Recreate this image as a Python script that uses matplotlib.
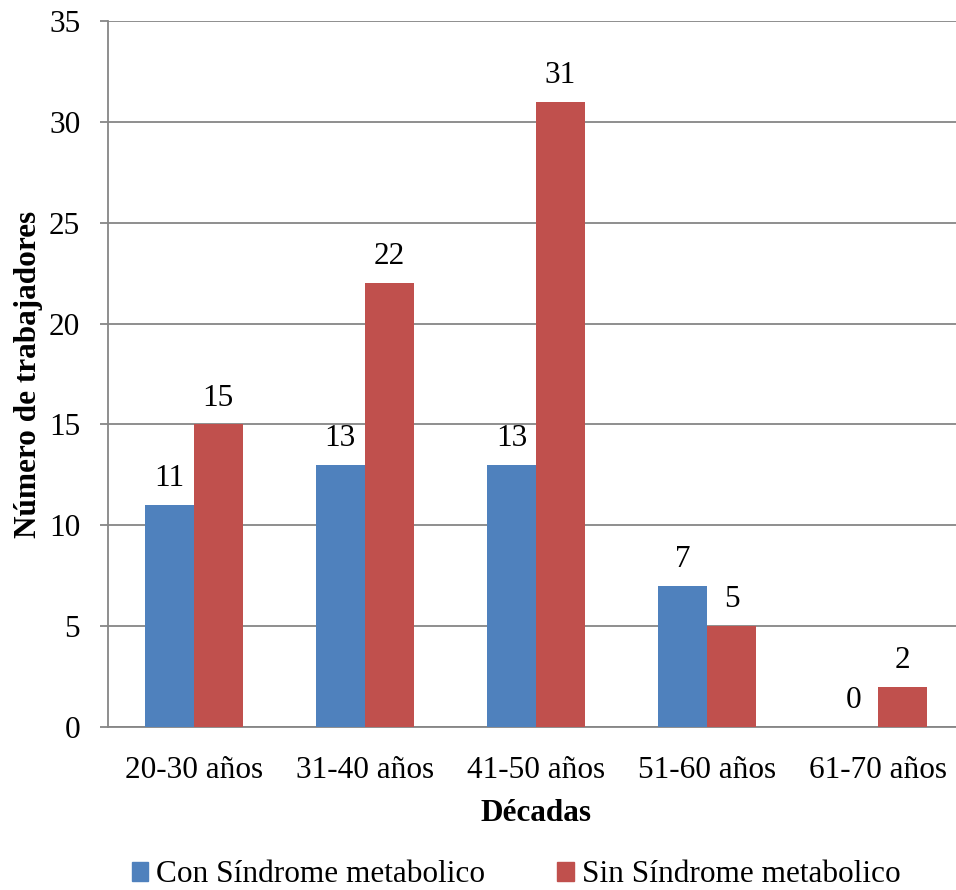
import numpy as np
import matplotlib
matplotlib.use("Agg")
import matplotlib.pyplot as plt
from matplotlib.patches import Patch

plt.rcParams['font.family'] = ['Liberation Serif', 'DejaVu Serif']

decadas = ['20-30 años', '31-40 años', '41-50 años', '51-60 años', '61-70 años']
con_sindrome = [11, 13, 13, 7, 0]
sin_sindrome = [15, 22, 31, 5, 2]
series = ['Con Síndrome metabolico', 'Sin Síndrome metabolico']
colores = ['#4F81BD', '#C0504D']

fig = plt.figure(figsize=(9.56, 8.9), dpi=100)
ax = fig.add_axes([108 / 956, 163 / 890, 856 / 956, 706 / 890])

x = np.arange(len(decadas))
w = 0.286
b1 = ax.bar(x - w / 2, con_sindrome, w, color=colores[0], zorder=3)
b2 = ax.bar(x + w / 2, sin_sindrome, w, color=colores[1], zorder=3)

fs = 22.5
for barras, vals in ((b1, con_sindrome), (b2, sin_sindrome)):
    for r, v in zip(barras, vals):
        ax.annotate(str(v), (r.get_x() + r.get_width() / 2, v),
                    xytext=(0, 8.5), textcoords='offset points',
                    ha='center', va='bottom', fontsize=fs)

ax.set_xlim(-0.5, len(decadas) - 0.5)
ax.set_ylim(0, 35)
ax.set_yticks(range(0, 36, 5))
ax.set_xticks(x)
ax.set_xticklabels(decadas)
ax.yaxis.grid(True, color='#868686', linewidth=1.3, zorder=0)
ax.tick_params(axis='x', length=0, labelsize=fs, pad=21)
ax.tick_params(axis='y', length=6, width=1.3, color='#868686', labelsize=fs, pad=14)

for s in ['top', 'right']:
    ax.spines[s].set_visible(False)
for s in ['left', 'bottom']:
    ax.spines[s].set_color('#868686')
    ax.spines[s].set_linewidth(1.3)

ax.set_xlabel('Décadas', fontsize=fs, fontweight='bold', labelpad=10)
ax.set_ylabel('Número de trabajadores', fontsize=fs, fontweight='bold', labelpad=4)

handles = [Patch(color=c, label=s) for c, s in zip(colores, series)]
fig.legend(handles=handles, loc='center', bbox_to_anchor=(0.54, 15 / 890),
           ncol=2, frameon=False, fontsize=fs, handlelength=0.52, handleheight=0.52,
           handletextpad=0.26, columnspacing=2.3)

fig.savefig('out.png', dpi=100)
